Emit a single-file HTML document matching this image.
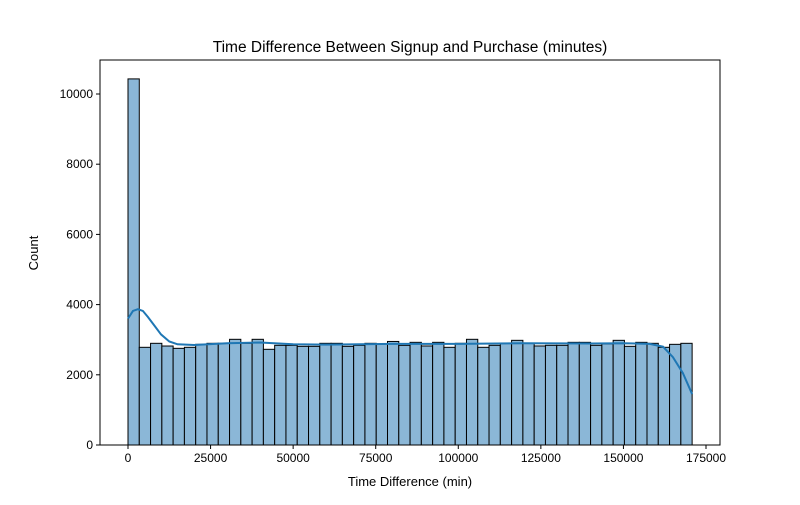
<!DOCTYPE html>
<html><head><meta charset="utf-8"><style>
body{margin:0;background:#fff;font-family:"Liberation Sans",sans-serif}
</style></head><body>
<svg id="c" width="800" height="500" xmlns="http://www.w3.org/2000/svg" font-family="Liberation Sans, sans-serif"></svg>
<script>
const counts=[10430,2783,2897,2820,2754,2783,2868,2897,2897,3011,2897,3011,2726,2840,2840,2811,2811,2897,2897,2811,2840,2897,2880,2950,2840,
2925,2821,2925,2783,2897,3011,2783,2840,2897,2982,2897,2821,2840,2840,2925,2925,2840,2880,2982,2811,2925,2897,2783,2868,2897];
const binStart=0, binEnd=170800;
const kdeX=[0,1500,3000,4500,6000,8000,10000,12500,15000,20000,30000,40000,50000,60000,80000,100000,120000,140000,150000,158000,162000,165000,168000,170800];
const kdeY=[3600,3820,3870,3820,3650,3400,3150,2950,2870,2850,2900,2920,2870,2860,2880,2880,2900,2890,2900,2880,2800,2500,2050,1450];
const xTicks=[0,25000,50000,75000,100000,125000,150000,175000];
const yTicks=[0,2000,4000,6000,8000,10000];
const svg=document.getElementById('c');const NS='http://www.w3.org/2000/svg';
const L=100,R=720,T=60,B=445;
const xs=v=>128+(v-0)*(706-128)/175000;
const ys=v=>B-v*(B-94)/10000;
function mk(t,a,p){const e=document.createElementNS(NS,t);for(const k in a)e.setAttribute(k,a[k]);(p||svg).appendChild(e);return e;}
const bw=(binEnd-binStart)/counts.length;
counts.forEach((c,i)=>{const x0=xs(binStart+i*bw),x1=xs(binStart+(i+1)*bw);
const r=mk('rect',{x:x0,y:ys(c),width:x1-x0,height:B-ys(c),fill:'#8bb7d7',stroke:'#000','stroke-width':1});

});
const kp=mk('path',{d:kdeX.map((x,i)=>(i?'L':'M')+xs(x)+','+ys(kdeY[i])).join(''),fill:'none',stroke:'#1f77b4','stroke-width':2});


const fr=mk('rect',{x:L,y:T,width:R-L,height:B-T,fill:'none',stroke:'#000','stroke-width':1});


xTicks.forEach(v=>{const x=xs(v);mk('line',{x1:x,x2:x,y1:B,y2:B+4,stroke:'#000'});
const t=mk('text',{x:x,y:B+17,'text-anchor':'middle','font-size':12});t.textContent=v;

});
yTicks.forEach(v=>{const y=ys(v);mk('line',{x1:L-4,x2:L,y1:y,y2:y,stroke:'#000'});
const t=mk('text',{x:L-7,y:y+4,'text-anchor':'end','font-size':12});t.textContent=v;

});
let t=mk('text',{x:410,y:486,'text-anchor':'middle','font-size':13});t.textContent='Time Difference (min)';


t=mk('text',{x:38,y:253,'text-anchor':'middle','font-size':13,transform:'rotate(-90 38 253)'});t.textContent='Count';


t=mk('text',{x:410,y:52,'text-anchor':'middle','font-size':15.5});t.textContent='Time Difference Between Signup and Purchase (minutes)';


</script></body></html>
